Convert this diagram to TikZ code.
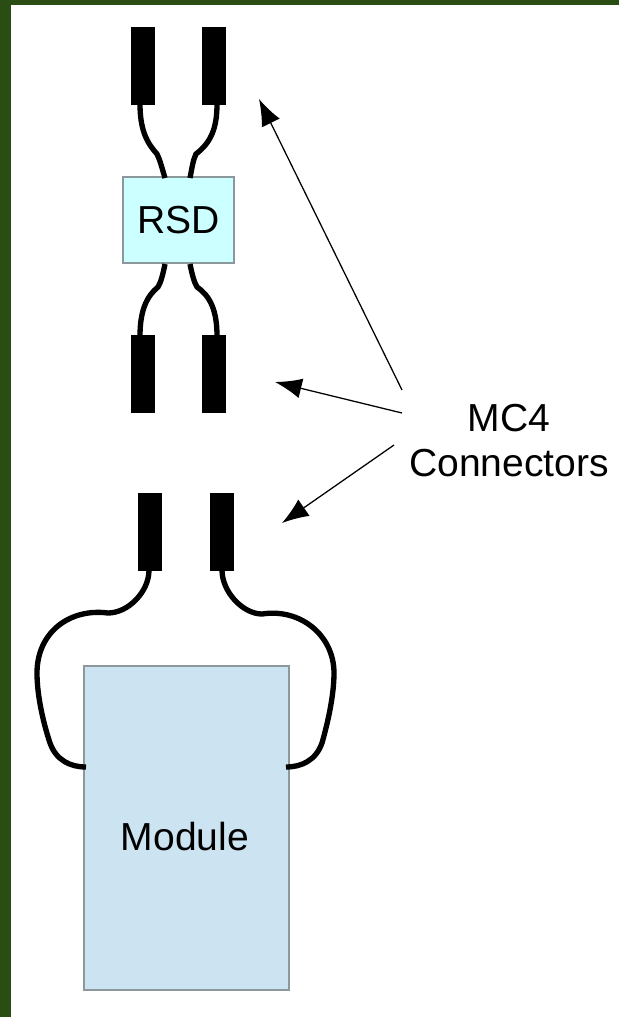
\documentclass[tikz,border=0pt]{standalone}
\usepackage{fontspec}
\setmainfont{Liberation Sans}
\usetikzlibrary{arrows.meta}
\definecolor{frame}{HTML}{2A4D14}
\definecolor{rsdfill}{HTML}{CCFFFF}
\definecolor{modfill}{HTML}{CCE4F2}
\definecolor{edge}{HTML}{8C989C}
\tikzset{
  x=0.75pt,y=-0.75pt,
  plug/.style={draw=none,fill=black,inner sep=0pt,minimum width=18pt,minimum height=58.5pt},
  unit/.style={draw=edge,line width=1.1pt,inner sep=0pt,font=\fontsize{29.3}{34}\selectfont},
  wire/.style={line width=4pt,line cap=butt,black},
  pointer/.style={line width=0.95pt,black,-{Latex[length=20pt,width=15pt]},shorten >=0pt},
  lbl/.style={inner sep=0pt,align=center,font=\fontsize{29.3}{34}\selectfont}
}
\begin{document}
\begin{tikzpicture}
\useasboundingbox (0,0) rectangle (619,1017);
\fill[white] (0,0) rectangle (619,1017);
\fill[frame] (0,0) rectangle (619,4.5);
\fill[frame] (0,0) rectangle (11,1017);

\node[plug] (p1) at (143,66) {};
\node[plug] (p2) at (214,66) {};
\node[plug] (p3) at (143,374) {};
\node[plug] (p4) at (214,374) {};
\node[plug] (p5) at (150,532) {};
\node[plug] (p6) at (221.5,532) {};

\node[unit,fill=rsdfill,minimum width=83pt,minimum height=64.5pt] (rsd) at (178.5,220) {RSD};
\node[unit,fill=modfill,minimum width=154pt,minimum height=243pt] (mod) at (186.5,828) {};
\node[inner sep=0pt,font=\fontsize{29.3}{34}\selectfont] (modlbl) at (185,837) {Module};

\coordinate (p1b) at (140,104);
\coordinate (p2b) at (217,104);
\coordinate (p3t) at (140,336);
\coordinate (p4t) at (217,336);
\coordinate (p5b) at (149,570);
\coordinate (p6b) at (222,570);
\coordinate (r1) at (165,178);
\coordinate (r2) at (190,178);
\coordinate (r3) at (165,264);
\coordinate (r4) at (190,264);
\coordinate (m1) at (86,767);
\coordinate (m2) at (286,767);

\draw[wire] (p1b) .. controls (140,130) and (147,143) .. (157,154) .. controls (160,160) and (162,168) .. (r1);
\draw[wire] (p2b) .. controls (217,130) and (210,143) .. (196,154) .. controls (193,160) and (192,168) .. (r2);
\draw[wire] (p3t) .. controls (140,310) and (147,296) .. (158,287) .. controls (161,282) and (163,274) .. (r3);
\draw[wire] (p4t) .. controls (217,310) and (210,296) .. (197,287) .. controls (194,282) and (192,274) .. (r4);
\draw[wire] (p5b) .. controls (149,592) and (128,613) .. (108,613) .. controls (70,608) and (37,632) .. (37,673) .. controls (37,695) and (43,722) .. (50,743) .. controls (56,760) and (70,767) .. (m1);
\draw[wire] (p6b) .. controls (222,592) and (243,614) .. (262,614) .. controls (300,608) and (334,635) .. (334,673) .. controls (334,695) and (328,722) .. (322,743) .. controls (316,760) and (302,767) .. (m2);

\node[lbl] (mc) at (509,440.5) {MC4\\Connectors};

\coordinate (a1s) at (402,390);
\coordinate (a1e) at (259,99);
\coordinate (a2s) at (402,413);
\coordinate (a2e) at (275,382);
\coordinate (a3s) at (394,445);
\coordinate (a3e) at (282,523);
\draw[pointer] (a1s) -- (a1e);
\draw[pointer] (a2s) -- (a2e);
\draw[pointer] (a3s) -- (a3e);
\end{tikzpicture}
\end{document}
